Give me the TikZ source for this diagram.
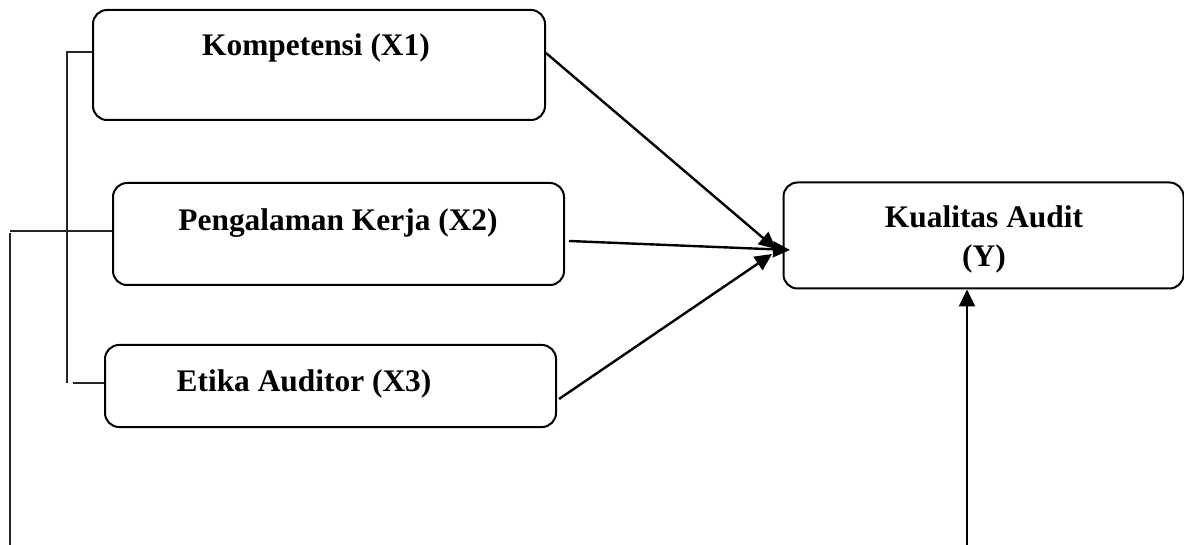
\documentclass[tikz,border=0pt]{standalone}
\usepackage{fontspec}
\setmainfont{Liberation Serif}
\usetikzlibrary{arrows.meta}
\begin{document}
\begin{tikzpicture}[x=0.5pt,y=-0.5pt,
  varbox/.style={draw=black,line width=1pt,rounded corners=7pt,inner sep=0pt},
  lbl/.style={font=\fontsize{15.7}{19.5}\selectfont\bfseries,align=center,inner sep=0pt},
  arr/.style={line width=1.2pt,-{Triangle[length=8.5pt,width=8pt]}},
  brk/.style={line width=0.8pt,draw=black!85}]
\useasboundingbox (0,0) rectangle (1184,545);
\node[varbox,minimum width=226pt,minimum height=55pt] (k1) at (319,65) {};
\node[varbox,minimum width=225.5pt,minimum height=51pt] (k2) at (338.5,234) {};
\node[varbox,minimum width=225.5pt,minimum height=41pt] (k3) at (330.5,386) {};
\node[varbox,minimum width=200pt,minimum height=53pt] (ky) at (983.5,235.5) {};
\node[lbl] (t1) at (316,48) {Kompetensi (X1)};
\node[lbl] (t2) at (338,223) {Pengalaman Kerja (X2)};
\node[lbl] (t3) at (304,384) {Etika Auditor (X3)};
\node[lbl] (ty) at (984,239) {Kualitas Audit\\(Y)};
% arrows to Y
\coordinate (e1) at (776,249);
\coordinate (e2) at (790,250);
\coordinate (e3) at (772,254);
\coordinate (s1) at (546,53);
\coordinate (s2) at (569,241);
\coordinate (s3) at (559,399);
\draw[arr] (s1) -- (e1);
\draw[arr] (s2) -- (e2);
\draw[arr] (s3) -- (e3);
% bottom arrow
\coordinate (b0) at (967,545);
\draw[arr] (b0) -- (b0 |- ky.south);
% bracket
\coordinate (v1) at (67,52);
\coordinate (v2) at (67,383);
\coordinate (v3) at (73,383);
\draw[brk] (v2) -- (v1) -- (v1 -| k1.west);
\draw[brk] (v3) -- (v3 -| k3.west);
\coordinate (h0) at (10,231);
\coordinate (h1) at (10,545);
\draw[brk] (h0) -- (h0 -| k2.west);
\draw[brk] (10,233) -- (h1);
\end{tikzpicture}
\end{document}
